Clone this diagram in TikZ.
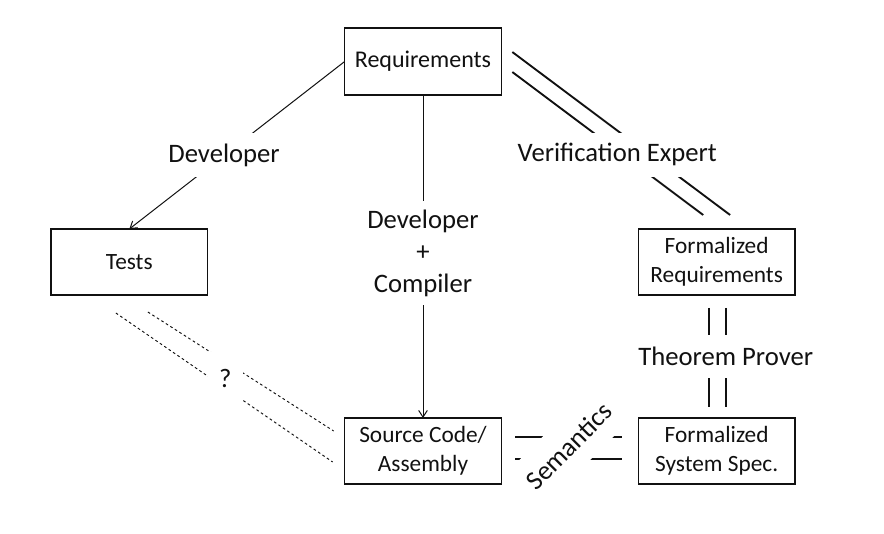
\documentclass[tikz,border=0pt]{standalone}
\usepackage{fontspec}
\setmainfont{Carlito}
\usetikzlibrary{arrows.meta,positioning,calc}
\usepackage{xcolor}
\definecolor{ink}{HTML}{111111}
\tikzset{
  >={Straight Barb[length=5pt,width=6.5pt]},
  every node/.style={text=ink},
  box/.style={draw=ink,line width=1pt,outer sep=0pt,minimum width=117.5pt,minimum height=49.5pt,align=center,inner sep=0pt,font=\fontsize{17.5}{21.5}\selectfont},
  arrow/.style={->,draw=ink,line width=0.75pt},
  twin/.style={draw=ink,line width=1.4pt},
  dashedtwin/.style={draw=ink,line width=0.7pt,dash pattern=on 2pt off 2pt},
  tag/.style={fill=white,inner sep=0pt,align=center,font=\fontsize{20}{24}\selectfont},
}
\begin{document}
\begin{tikzpicture}[node distance=100.5pt and 102.75pt]
\useasboundingbox (-317.25pt,46.125pt) rectangle (345.75pt,-354.375pt);

\node[box,minimum height=50.25pt,font=\fontsize{18}{21.5}\selectfont] (req) {Requirements};
\node[box,below left=of req] (tests) {Tests};
\node[box,below right=of req] (freq) {Formalized\\Requirements};
\node[box,below=242.25pt of req] (src) {Source Code/\\Assembly};
\node[box,right=102.75pt of src] (fss) {Formalized\\System Spec.};

\draw[arrow] (req.west) -- (tests.north) node[tag,pos=0.56,minimum height=33pt,inner xsep=3pt] (dev) {Developer};
\draw[arrow] (req.south) -- (src.north) node[tag,pos=0.49,minimum height=78pt,inner xsep=4pt] (devc) {Developer\\+\\Compiler};

\draw[twin] ($(req.east)+(8.25pt,7.1pt)$) -- ($(freq.north)+(10.1pt,10.5pt)$);
\draw[twin] ($(req.east)+(8.25pt,-7.9pt)$) -- ($(freq.north)+(-10.1pt,10.5pt)$);
\node[tag,minimum height=33pt] (vexp) at ($(req.east)+(87pt,-70pt)$) {Verification Expert};

\draw[twin] ($(freq.south)+(-5.6pt,-9.75pt)$) -- ($(fss.north)+(-5.6pt,8.25pt)$);
\draw[twin] ($(freq.south)+(7.1pt,-9.75pt)$) -- ($(fss.north)+(7.1pt,8.25pt)$);
\node[tag,minimum height=32pt] (prover) at ($(freq.south)+(6.75pt,-46.1pt)$) {Theorem Prover};

\draw[twin] ($(src.east)+(10.5pt,10.5pt)$) -- ($(fss.west)+(-12pt,10.5pt)$);
\draw[twin] ($(src.east)+(10.5pt,-6pt)$) -- ($(fss.west)+(-12pt,-6pt)$);
\node[tag,rotate=45,minimum height=37.5pt,inner xsep=8pt] (sem) at ($(src.east)+(50.6pt,3.75pt)$) {Semantics};

\draw[dashedtwin] ($(tests.south)+(-10.1pt,-13.5pt)$) -- ($(src.west)+(-9pt,-8.25pt)$);
\draw[dashedtwin] ($(tests.south)+(13.9pt,-12.75pt)$) -- ($(src.west)+(-8.25pt,15pt)$);
\node[tag,minimum width=26.25pt,minimum height=39pt] (unknown) at ($(tests.south)+(72pt,-62.6pt)$) {?};

\end{tikzpicture}
\end{document}
